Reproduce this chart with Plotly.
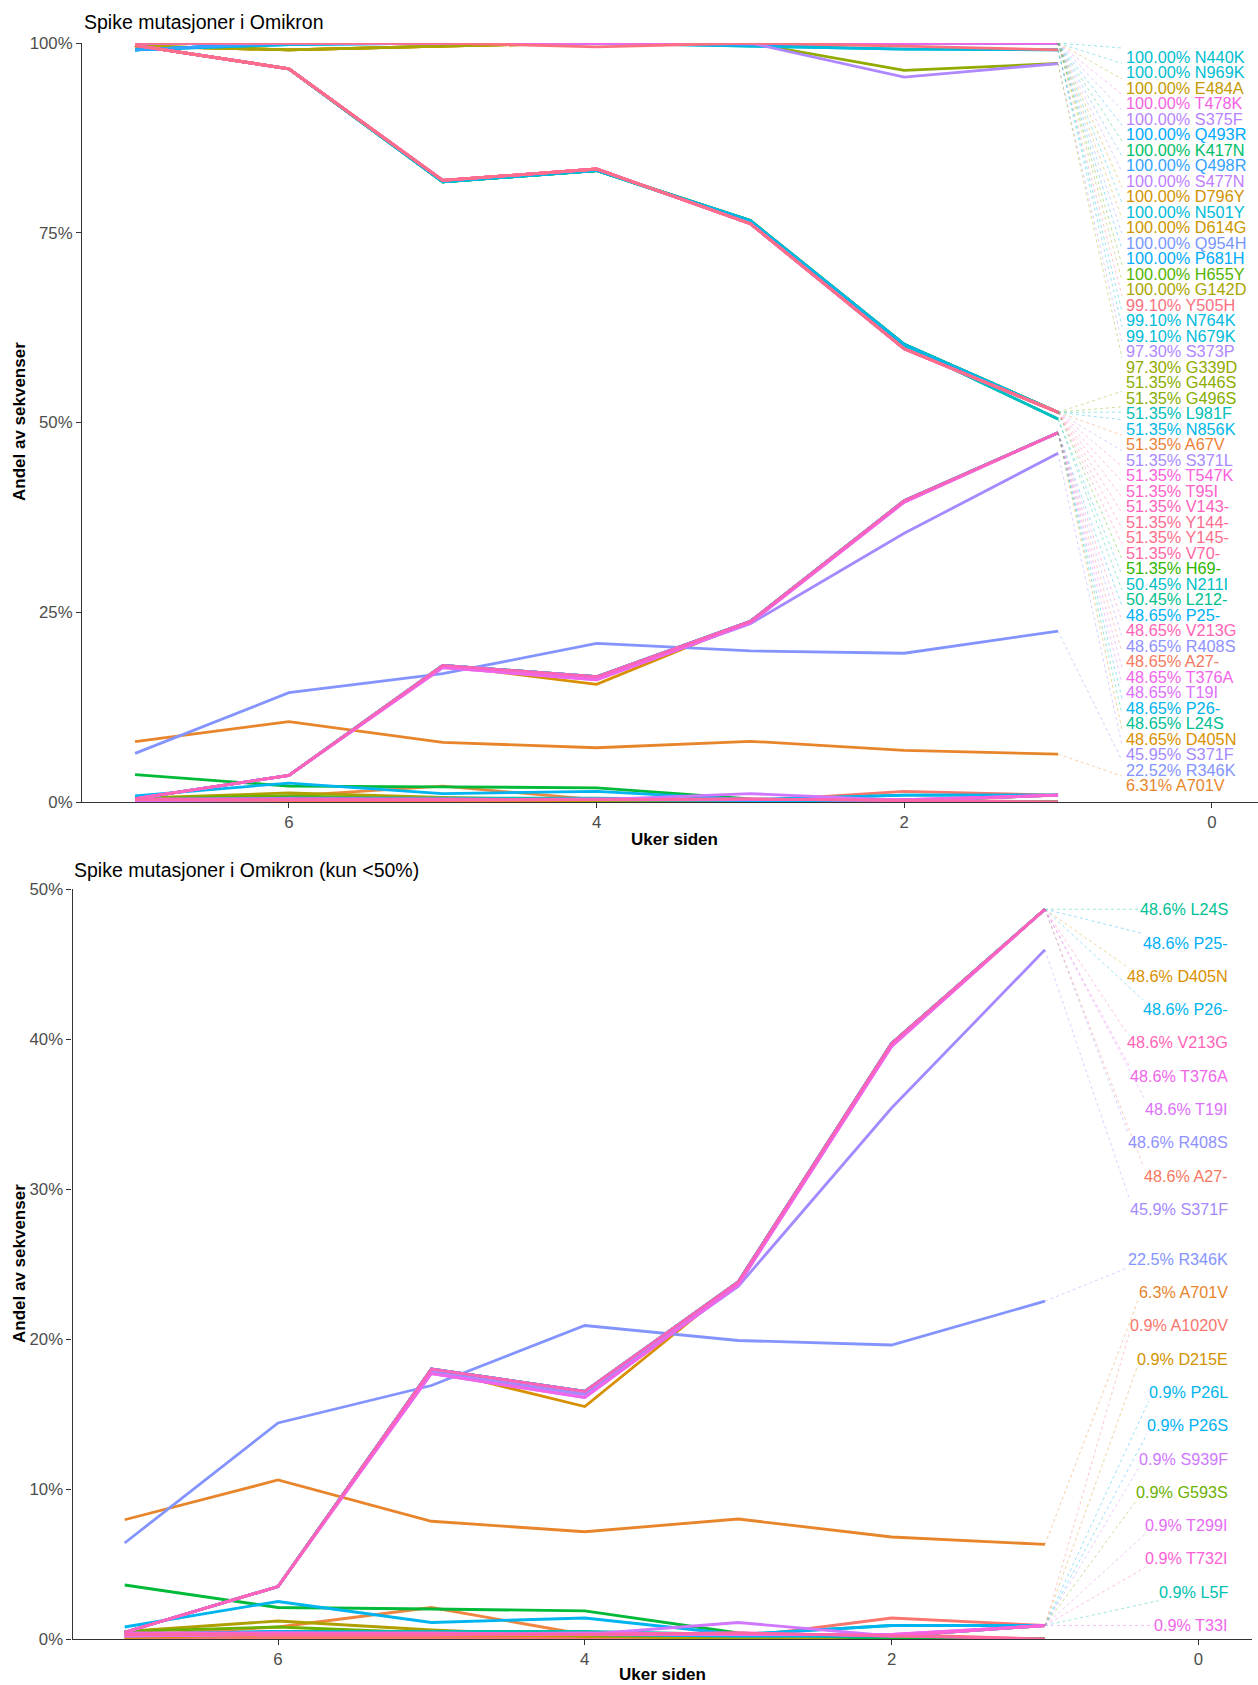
import colorsys
import plotly.graph_objects as go

W, H = 1258, 1685
FONT = "Liberation Sans, Arial, Helvetica, sans-serif"
TICK_GREY = "#4d4d4d"
AXIS = "#333333"

WEEKS = [7, 6, 5, 4, 3, 2, 1]

# share of sequences (%) per week, 7 -> 1 weeks ago
FULL      = [100, 100, 100, 100, 100, 100, 100]
FULL_B    = [99.1, 100, 100, 100, 99.8, 100, 100]
FULL_C    = [99.6, 99.1, 99.6, 100, 100, 100, 100]
Y505H_V   = [100, 100, 100, 99.5, 100, 99.6, 99.099]
N7XXK_V   = [99.1, 99.8, 100, 100, 99.6, 99.2, 99.099]
S373P_V   = [100, 100, 100, 100, 100, 95.5, 97.297]
G339D_V   = [100, 100, 100, 100, 100, 96.4, 97.297]
DROP      = [99.7, 96.6, 81.9, 83.4, 76.2, 59.7, 51.351]
DROP_B    = [99.7, 96.6, 81.7, 83.2, 76.6, 60.3, 51.351]
DROP_C    = [99.7, 96.6, 81.7, 83.2, 76.4, 60.1, 50.450]
RISE      = [0.45, 3.5, 18.0, 16.5, 23.8, 39.7, 48.649]
RISE_B    = [0.45, 3.5, 17.7, 16.1, 23.6, 39.5, 48.649]
D405N_V   = [0.45, 3.5, 18.0, 15.5, 23.8, 39.7, 48.649]
S371F_V   = [0.45, 3.5, 17.8, 16.3, 23.5, 35.4, 45.946]
R346K_V   = [6.4, 14.4, 16.9, 20.9, 19.9, 19.6, 22.523]
A701V_V   = [7.95, 10.6, 7.85, 7.15, 8.0, 6.8, 6.306]
A1020V_V  = [0.2, 0.2, 0.3, 0.2, 0.1, 1.4, 0.901]
D215E_V   = [0.1, 0.3, 0.3, 0.2, 0.2, 0.2, 0.901]
P26L_V    = [0.8, 2.5, 1.1, 1.4, 0.3, 0.9, 0.901]
P26S_V    = [0.3, 0.5, 0.3, 0.3, 0.2, 0.2, 0.901]
S939F_V   = [0.2, 0.3, 0.3, 0.3, 1.1, 0.2, 0.901]
G593S_V   = [0.5, 0.8, 0.4, 0.3, 0.2, 0.2, 0.901]
T299I_V   = [0.2, 0.3, 0.3, 0.4, 0.3, 0.3, 0.901]
T732I_V   = [0.3, 0.4, 0.4, 0.3, 0.4, 0.2, 0.901]
L5F_V     = [0.3, 0.5, 0.5, 0.5, 0.3, 0.9, 0.901]
T33I_V    = [0.4, 0.4, 0.3, 0.3, 0.3, 0.3, 0.901]

# lines that end at 0 % (no label)
GONE_GREEN  = [3.6, 2.1, 2.0, 1.87, 0.4, 0, 0]
GONE_ORANGE = [0.2, 0.8, 2.1, 0.3, 0, 0, 0]
GONE_OLIVE  = [0.5, 1.2, 0.6, 0.2, 0, 0, 0]
GONE_PINK   = [0.3, 0.3, 0.3, 0.3, 0.4, 0.2, 0]
GONE_RED    = [0.1, 0.1, 0.1, 0.1, 0.1, 0.3, 0]

# which mutations follow which trajectory
MUT_FULL   = ["N440K", "T478K", "S375F", "K417N", "S477N", "Q954H", "H655Y"]
MUT_FULL_B = ["N969K", "Q493R", "Q498R", "N501Y", "P681H"]
MUT_FULL_C = ["E484A", "D796Y", "D614G", "G142D"]
MUT_N7XXK  = ["N764K", "N679K"]
MUT_DROP   = ["A67V", "S371L", "T547K", "T95I", "V143-", "Y144-", "Y145-", "V70-"]
MUT_DROP_B = ["G446S", "G496S", "L981F", "N856K", "H69-"]
MUT_DROP_C = ["N211I", "L212-"]
MUT_RISE   = ["P25-", "V213G", "R408S", "A27-", "P26-", "L24S"]
MUT_RISE_B = ["T376A", "T19I"]

SERIES = {}
for vals, names in [(FULL, MUT_FULL), (FULL_B, MUT_FULL_B), (FULL_C, MUT_FULL_C),
                    (N7XXK_V, MUT_N7XXK), (DROP, MUT_DROP), (DROP_B, MUT_DROP_B),
                    (DROP_C, MUT_DROP_C), (RISE, MUT_RISE), (RISE_B, MUT_RISE_B)]:
    for n in names:
        SERIES[n] = vals
SERIES.update({
    "Y505H": Y505H_V, "S373P": S373P_V, "G339D": G339D_V, "D405N": D405N_V,
    "S371F": S371F_V, "R346K": R346K_V, "A701V": A701V_V, "A1020V": A1020V_V,
    "D215E": D215E_V, "P26L": P26L_V, "P26S": P26S_V, "S939F": S939F_V,
    "G593S": G593S_V, "T299I": T299I_V, "T732I": T732I_V, "L5F": L5F_V, "T33I": T33I_V,
})
GONE = [(GONE_GREEN, "#00ba38"), (GONE_ORANGE, "#ee8640"), (GONE_OLIVE, "#b09f00"),
        (GONE_PINK, "#ff66a8"), (GONE_RED, "#f8766d")]

COLORS = {
    "A1020V": "#f8766d", "A27-": "#f57962", "A67V": "#ec823a", "A701V": "#e8852b",
    "D215E": "#d39200", "D405N": "#d89000", "D614G": "#cc9600", "D796Y": "#d29300",
    "E484A": "#c49a00", "G142D": "#a9a400", "G339D": "#93aa00", "G446S": "#8bac00",
    "G496S": "#86ad00", "G593S": "#6bb100", "H655Y": "#53b400", "H69-": "#2db600",
    "K417N": "#00be67", "L212-": "#00c08b", "L24S": "#00c094", "L5F": "#00c0af",
    "L981F": "#00c0b8", "N211I": "#00bfc4", "N440K": "#00bdd0", "N501Y": "#00bcd8",
    "N679K": "#00bcd8", "N764K": "#00bbdb", "N856K": "#00b8e7", "N969K": "#00bdd0",
    "P25-": "#00b0f6", "P26-": "#00b4ef", "P26L": "#00b4ef", "P26S": "#00b1f3",
    "P681H": "#00abfd", "Q493R": "#00a9ff", "Q498R": "#35a2ff", "Q954H": "#7997ff",
    "R346K": "#8494ff", "R408S": "#8f91ff", "S371F": "#a58aff", "S371L": "#a88aff",
    "S373P": "#af87ff", "S375F": "#b983ff", "S477N": "#c07fff", "S939F": "#cf78ff",
    "T19I": "#dc71fa", "T299I": "#e76bf3", "T33I": "#f066ea", "T376A": "#f066ea",
    "T478K": "#f564e3", "T547K": "#fa62db", "T732I": "#fc61d5", "T95I": "#ff61c9",
    "V143-": "#ff62bc", "V213G": "#ff63b6", "V70-": "#ff67a4", "Y144-": "#ff6c91",
    "Y145-": "#fe6e8a", "Y505H": "#fc717f",
}

# label stacking order, as printed at the right of each panel
TOP_ORDER = ["N440K", "N969K", "E484A", "T478K", "S375F", "Q493R", "K417N", "Q498R",
             "S477N", "D796Y", "N501Y", "D614G", "Q954H", "P681H", "H655Y", "G142D",
             "Y505H", "N764K", "N679K", "S373P", "G339D", "G446S", "G496S", "L981F",
             "N856K", "A67V", "S371L", "T547K", "T95I", "V143-", "Y144-", "Y145-",
             "V70-", "H69-", "N211I", "L212-", "P25-", "V213G", "R408S", "A27-",
             "T376A", "T19I", "P26-", "L24S", "D405N", "S371F", "R346K", "A701V"]
BOTTOM_ORDER = ["L24S", "P25-", "D405N", "P26-", "V213G", "T376A", "T19I", "R408S",
                "A27-", "S371F", "R346K", "A701V", "A1020V", "D215E", "P26L", "P26S",
                "S939F", "G593S", "T299I", "T732I", "L5F", "T33I"]

# panel geometry (pixels) and axis ranges
TOP = dict(x0=82, x1=1258, y0=43, y1=802, xr=(7.345, -0.30), yr=(0, 100))
BOT = dict(x0=72.5, x1=1252, y0=889, y1=1639, xr=(7.34, -0.35), yr=(0, 50))

EM = {".": .278, "%": .889, " ": .278, "-": .333, "I": .278, "L": .556, "F": .611,
      "T": .611, "D": .722, "H": .722, "N": .722, "R": .722, "G": .778, "Q": .778}


def text_w(s, size):
    return sum(.556 if c.isdigit() else EM.get(c, .667) for c in s) * size


def to_px(p, xv, yv):
    (a, b), (c, d) = p["xr"], p["yr"]
    return (p["x0"] + (xv - a) / (b - a) * (p["x1"] - p["x0"]),
            p["y1"] - (yv - c) / (d - c) * (p["y1"] - p["y0"]))


def from_px(p, x, y):
    (a, b), (c, d) = p["xr"], p["yr"]
    return (a + (x - p["x0"]) / (p["x1"] - p["x0"]) * (b - a),
            c + (p["y1"] - y) / (p["y1"] - p["y0"]) * (d - c))


def spread(vals, gap, hi, lo):
    pos = []
    for v in vals:
        pos.append(min(v, hi) if not pos else min(v, pos[-1] - gap))
    for i in range(len(pos) - 1, -1, -1):
        pos[i] = max(pos[i], lo if i == len(pos) - 1 else pos[i + 1] + gap)
    return pos


def rgba(hex_color, a):
    h = hex_color.lstrip("#")
    r, g, b = (int(h[i:i + 2], 16) for i in (0, 2, 4))
    return f"rgba({r},{g},{b},{a})"


def hue(hex_color):
    h = hex_color.lstrip("#")
    return colorsys.rgb_to_hls(*(int(h[i:i + 2], 16) / 255 for i in (0, 2, 4)))[0]


fig = go.Figure()

lines = [(n, v, COLORS[n]) for n, v in SERIES.items()] + [("", v, c) for v, c in GONE]
lines.sort(key=lambda t: hue(t[2]))
for panel, (xa, ya) in [("top", ("x", "y")), ("bot", ("x2", "y2"))]:
    for name, vals, col in lines:
        if panel == "bot" and vals[-1] >= 50:
            continue
        fig.add_trace(go.Scatter(
            x=WEEKS, y=vals, mode="lines", name=name, xaxis=xa, yaxis=ya,
            line=dict(color=col, width=2.8), showlegend=False, hoverinfo="skip",
        ))

annotations = []
shapes = []


def add_labels(p, order, fmt, gap_px, top_px, bot_px, size, anchor_px, align, xa, ya):
    ppu = (p["y1"] - p["y0"]) / (p["yr"][1] - p["yr"][0])
    vals = [SERIES[n][-1] for n in order]
    ys = spread(vals, gap_px / ppu, from_px(p, 0, top_px)[1], from_px(p, 0, bot_px)[1])
    for n, v, ly in zip(order, vals, ys):
        txt = fmt.format(v) + " " + n
        w = text_w(txt, size)
        bx0 = anchor_px if align == "left" else anchor_px - w
        bx1 = bx0 + w
        _, by = to_px(p, 0, ly)
        px, py = to_px(p, WEEKS[-1], v)
        ex = min(max(px, bx0 - 2), bx1 + 2)
        ey = min(max(py, by - 9), by + 9)
        ex, ey = from_px(p, ex, ey)
        shapes.append(dict(type="line", xref=xa, yref=ya, x0=WEEKS[-1], y0=v, x1=ex, y1=ey,
                           line=dict(color=rgba(COLORS[n], 0.5), width=0.8, dash="dot")))
        ax, _ = from_px(p, anchor_px, 0)
        annotations.append(dict(x=ax, y=ly, xref=xa, yref=ya, text=txt, showarrow=False,
                                xanchor=align, yanchor="middle",
                                font=dict(family=FONT, size=size, color=COLORS[n])))


add_labels(TOP, TOP_ORDER, "{:.2f}%", 15.49, 57, 785, 16.3, 1124, "left", "x", "y")
add_labels(BOT, BOTTOM_ORDER, "{:.1f}%", 33.3, 905.7, 1625, 16.2, 1230, "right", "x2", "y2")


def paper(x, y):
    return dict(x=x / W, y=1 - y / H, xref="paper", yref="paper", showarrow=False)


annotations += [
    dict(**paper(82, 22), text="Spike mutasjoner i Omikron", xanchor="left", yanchor="middle",
         font=dict(family=FONT, size=19.5, color="#000000")),
    dict(**paper(72, 870), text="Spike mutasjoner i Omikron (kun <50%)", xanchor="left",
         yanchor="middle", font=dict(family=FONT, size=19.5, color="#000000")),
    dict(**paper(19, 422), text="<b>Andel av sekvenser</b>", textangle=-90,
         xanchor="center", yanchor="middle", font=dict(family=FONT, size=17, color="#000000")),
    dict(**paper(19, 1264), text="<b>Andel av sekvenser</b>", textangle=-90,
         xanchor="center", yanchor="middle", font=dict(family=FONT, size=17, color="#000000")),
    dict(**paper(674, 839), text="<b>Uker siden</b>", xanchor="center", yanchor="middle",
         font=dict(family=FONT, size=17, color="#000000")),
    dict(**paper(662, 1674), text="<b>Uker siden</b>", xanchor="center", yanchor="middle",
         font=dict(family=FONT, size=17, color="#000000")),
]

AX = dict(showgrid=False, zeroline=False, showline=True, linecolor=AXIS, linewidth=1.1,
          ticks="outside", ticklen=5, tickcolor=AXIS, tickwidth=1.1, automargin=False,
          tickfont=dict(family=FONT, size=16.8, color=TICK_GREY), fixedrange=True)

fig.update_layout(
    width=W, height=H, template="none",
    paper_bgcolor="white", plot_bgcolor="white",
    margin=dict(l=0, r=0, t=0, b=0),
    font=dict(family=FONT),
    showlegend=False,
    xaxis=dict(**AX, domain=[TOP["x0"] / W, TOP["x1"] / W], range=list(TOP["xr"]),
               tickvals=[0, 2, 4, 6], anchor="y"),
    yaxis=dict(**AX, domain=[1 - TOP["y1"] / H, 1 - TOP["y0"] / H], range=list(TOP["yr"]),
               tickvals=[0, 25, 50, 75, 100], ticktext=["0%", "25%", "50%", "75%", "100%"],
               anchor="x"),
    xaxis2=dict(**AX, domain=[BOT["x0"] / W, BOT["x1"] / W], range=list(BOT["xr"]),
                tickvals=[0, 2, 4, 6], anchor="y2"),
    yaxis2=dict(**AX, domain=[1 - BOT["y1"] / H, 1 - BOT["y0"] / H], range=list(BOT["yr"]),
                tickvals=[0, 10, 20, 30, 40, 50],
                ticktext=["0%", "10%", "20%", "30%", "40%", "50%"], anchor="x2"),
    annotations=annotations,
    shapes=shapes,
)

# the page's default body margin would push the fixed-size figure off the window
fig.write_html("out.html", config={"displayModeBar": False},
               post_script="document.body.style.margin='0';")
